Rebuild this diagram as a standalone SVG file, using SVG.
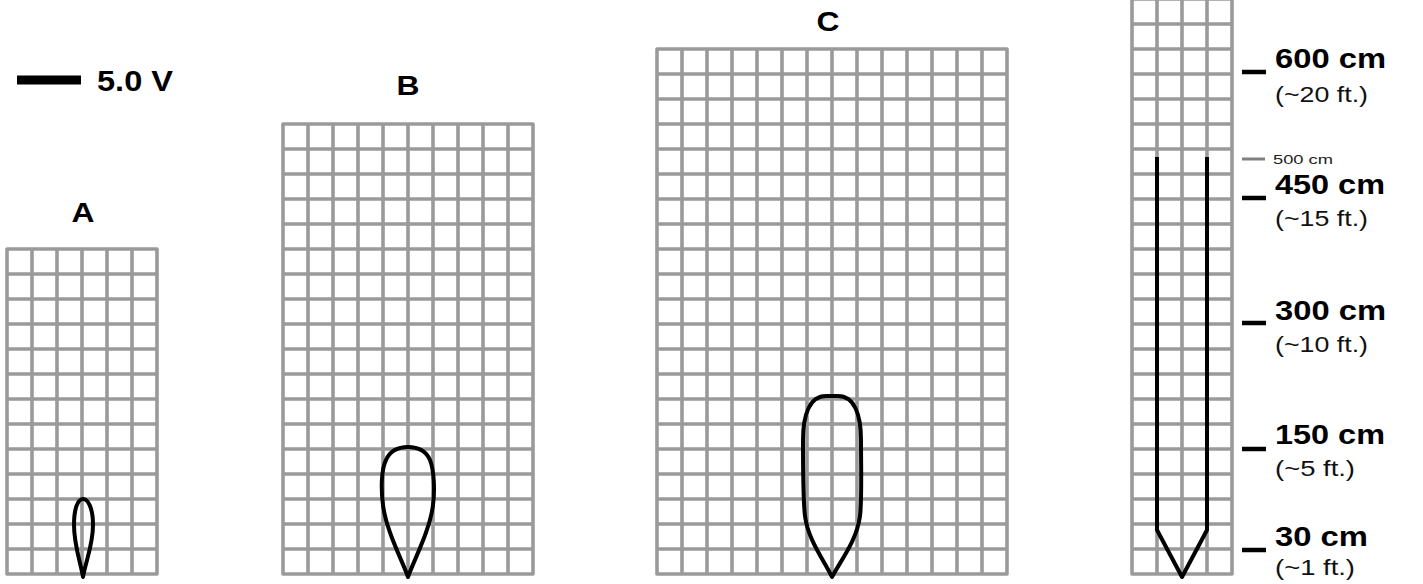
<svg xmlns="http://www.w3.org/2000/svg" width="1423" height="584" viewBox="0 0 1423 584">
<style>
.grid{fill:none;stroke:#9a9a9a;stroke-width:3.6;stroke-linecap:round;stroke-linejoin:round}
.shape{fill:none;stroke:#000;stroke-width:4;stroke-linejoin:round}
.lbl{font-family:"Liberation Sans",Arial,sans-serif;font-weight:bold;fill:#000}
.cm{font-family:"Liberation Sans",Arial,sans-serif;font-weight:bold;font-size:28px;fill:#000}
.ft{font-family:"Liberation Sans",Arial,sans-serif;font-size:22px;fill:#111}
.tick{stroke:#000;stroke-width:4.5}
</style>
<rect width="1423" height="584" fill="#fff"/>
<g id="scale-bar">
<rect x="17" y="75.5" width="64" height="9" fill="#000"/>
<text class="lbl" x="97" y="91" font-size="30" textLength="76" lengthAdjust="spacingAndGlyphs">5.0 V</text>
</g>
<g id="grid-a">
<text class="lbl" x="83" y="222" font-size="28" text-anchor="middle" textLength="23" lengthAdjust="spacingAndGlyphs">A</text>
<path class="grid" d="M7,249V574M32,249V574M57,249V574M82,249V574M107,249V574M132,249V574M157,249V574M7,249H157M7,274H157M7,299H157M7,324H157M7,349H157M7,374H157M7,399H157M7,424H157M7,449H157M7,474H157M7,499H157M7,524H157M7,549H157M7,574H157"/>
<path class="shape" d="M83,577 C80,560 74,545 74,525 C74,508 78,499 83,499 C88,499 93,508 93,525 C93,545 86,560 83,577 Z"/>
</g>
<g id="grid-b">
<text class="lbl" x="408" y="95" font-size="28" text-anchor="middle" textLength="23" lengthAdjust="spacingAndGlyphs">B</text>
<path class="grid" d="M283,124V574M308,124V574M333,124V574M358,124V574M383,124V574M408,124V574M433,124V574M458,124V574M483,124V574M508,124V574M533,124V574M283,124H533M283,149H533M283,174H533M283,199H533M283,224H533M283,249H533M283,274H533M283,299H533M283,324H533M283,349H533M283,374H533M283,399H533M283,424H533M283,449H533M283,474H533M283,499H533M283,524H533M283,549H533M283,574H533"/>
<path class="shape" d="M408,577 C402,560 386,530 383,505 C381,490 381,470 386,460 C390,451 398,447 408,447 C418,447 426,451 430,460 C434,470 435,490 433,505 C430,530 414,560 408,577 Z"/>
</g>
<g id="grid-c">
<text class="lbl" x="828" y="31" font-size="28" text-anchor="middle" textLength="23" lengthAdjust="spacingAndGlyphs">C</text>
<path class="grid" d="M657,49V574M682,49V574M707,49V574M732,49V574M757,49V574M782,49V574M807,49V574M832,49V574M857,49V574M882,49V574M907,49V574M932,49V574M957,49V574M982,49V574M1007,49V574M657,49H1007M657,74H1007M657,99H1007M657,124H1007M657,149H1007M657,174H1007M657,199H1007M657,224H1007M657,249H1007M657,274H1007M657,299H1007M657,324H1007M657,349H1007M657,374H1007M657,399H1007M657,424H1007M657,449H1007M657,474H1007M657,499H1007M657,524H1007M657,549H1007M657,574H1007"/>
<path class="shape" d="M832,577 C824,560 808,540 805,516 C803,500 803,470 803,440 C803,414 810,396 826,396 L838,396 C854,396 861,414 861,440 C861,470 862,500 860,516 C857,540 841,560 832,577 Z"/>
</g>
<g id="grid-d">
<path class="grid" d="M1132,-5V574M1157,-5V574M1182,-5V574M1207,-5V574M1232,-5V574M1132,-1H1232M1132,24H1232M1132,49H1232M1132,74H1232M1132,99H1232M1132,124H1232M1132,149H1232M1132,174H1232M1132,199H1232M1132,224H1232M1132,249H1232M1132,274H1232M1132,299H1232M1132,324H1232M1132,349H1232M1132,374H1232M1132,399H1232M1132,424H1232M1132,449H1232M1132,474H1232M1132,499H1232M1132,524H1232M1132,549H1232M1132,574H1232"/>
<path class="shape" d="M1157,157 V530 L1182,577 L1207,530 V157" stroke-width="4"/>
</g>
<g id="depth-scale">
<line class="tick" x1="1242" y1="72" x2="1266" y2="72"/>
<line class="tick" x1="1242" y1="198" x2="1266" y2="198"/>
<line class="tick" x1="1242" y1="323" x2="1266" y2="323"/>
<line class="tick" x1="1242" y1="449" x2="1266" y2="449"/>
<line class="tick" x1="1242" y1="550" x2="1266" y2="550"/>
<line x1="1242" y1="159" x2="1265" y2="159" stroke="#808080" stroke-width="3"/>
<text x="1273" y="164" font-family="Liberation Sans,Arial,sans-serif" font-size="13" fill="#222" textLength="60" lengthAdjust="spacingAndGlyphs">500 cm</text>
<text class="cm" x="1275" y="68" textLength="111" lengthAdjust="spacingAndGlyphs">600 cm</text>
<text class="ft" x="1275" y="102" textLength="93" lengthAdjust="spacingAndGlyphs">(~20 ft.)</text>
<text class="cm" x="1275" y="194" textLength="110" lengthAdjust="spacingAndGlyphs">450 cm</text>
<text class="ft" x="1275" y="226" textLength="93" lengthAdjust="spacingAndGlyphs">(~15 ft.)</text>
<text class="cm" x="1275" y="320" textLength="111" lengthAdjust="spacingAndGlyphs">300 cm</text>
<text class="ft" x="1275" y="352" textLength="93" lengthAdjust="spacingAndGlyphs">(~10 ft.)</text>
<text class="cm" x="1275" y="444" textLength="110" lengthAdjust="spacingAndGlyphs">150 cm</text>
<text class="ft" x="1275" y="476" textLength="80" lengthAdjust="spacingAndGlyphs">(~5 ft.)</text>
<text class="cm" x="1275" y="546" textLength="93" lengthAdjust="spacingAndGlyphs">30 cm</text>
<text class="ft" x="1275" y="575" textLength="80" lengthAdjust="spacingAndGlyphs">(~1 ft.)</text>
</g>
</svg>
